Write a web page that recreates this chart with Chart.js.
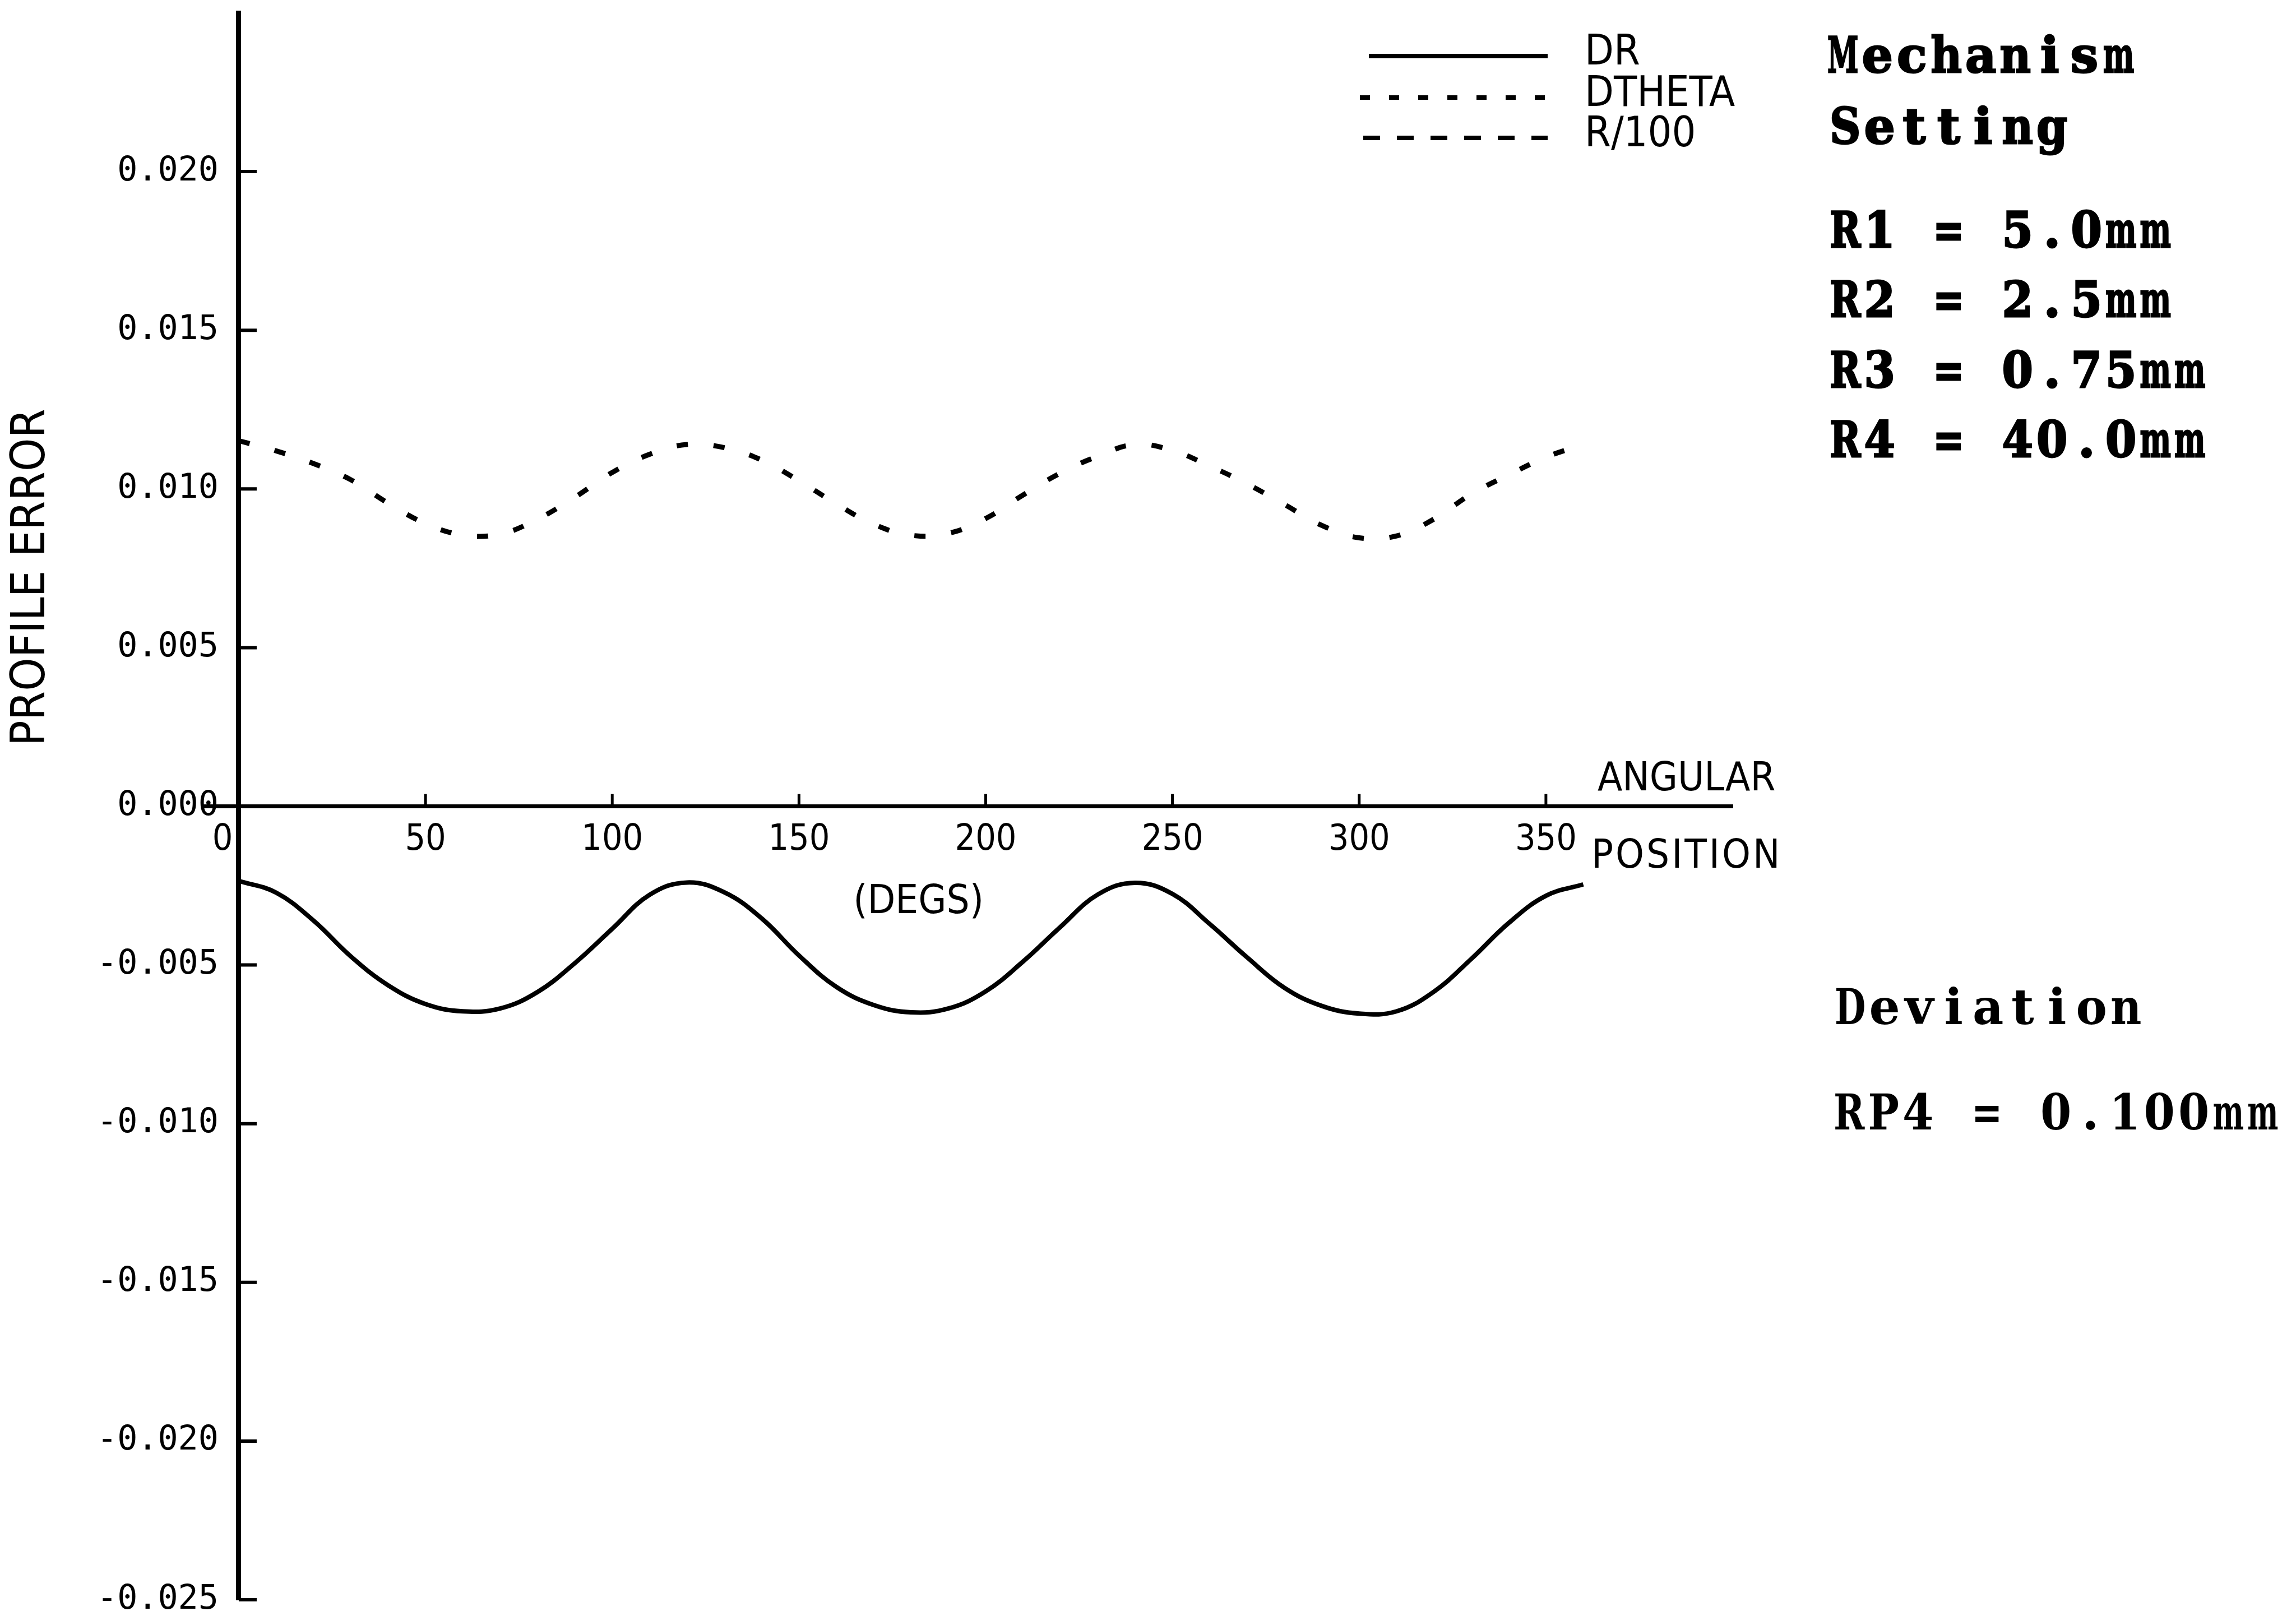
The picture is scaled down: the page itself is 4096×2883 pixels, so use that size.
<!DOCTYPE html>
<html>
<head>
<meta charset="utf-8">
<title>Profile error</title>
<script src="https://cdn.jsdelivr.net/npm/chart.js@4.4.1/dist/chart.umd.min.js"></script>
<style>
  html, body { margin: 0; padding: 0; background: #fff; }
  #chart { display: block; }
</style>
</head>
<body>
<canvas id="chart" width="4096" height="2883"></canvas>
<script>
// angular position (degrees) and the three traced series
const angles = [0, 10, 20, 30, 40, 50, 60, 70, 80, 90, 100, 110, 120,
  130, 140, 150, 160, 170, 180, 190, 200, 210, 220, 230, 240,
  250, 260, 270, 280, 290, 300, 310, 320, 330, 340, 350, 360];

const drValues = [-0.00235, -0.00272, -0.00360, -0.00473, -0.00564, -0.00623, -0.00646,
  -0.00637, -0.00585, -0.00494, -0.00386, -0.00279, -0.00240,
  -0.00271, -0.00353, -0.00470, -0.00569, -0.00626, -0.00649,
  -0.00637, -0.00583, -0.00489, -0.00380, -0.00278, -0.00241,
  -0.00276, -0.00371, -0.00476, -0.00572, -0.00629, -0.00653,
  -0.00646, -0.00584, -0.00481, -0.00368, -0.00282, -0.00246];

const dthetaValues = [0, 0, 0, 0, 0, 0, 0, 0, 0, 0, 0, 0, 0,
  0, 0, 0, 0, 0, 0, 0, 0, 0, 0, 0, 0,
  0, 0, 0, 0, 0, 0, 0, 0, 0, 0, 0, 0];

const r100Values = [0.01152, 0.01120, 0.01080, 0.01029, 0.00955, 0.00891, 0.00855,
  0.00858, 0.00905, 0.00974, 0.01052, 0.01109, 0.01140,
  0.01130, 0.01091, 0.01026, 0.00953, 0.00889, 0.00854,
  0.00860, 0.00907, 0.00981, 0.01050, 0.01103, 0.01140,
  0.01121, 0.01072, 0.01016, 0.00951, 0.00885, 0.00846,
  0.00852, 0.00905, 0.00984, 0.01044, 0.01100, 0.01140];

const seriesNames = ['DR', 'DTHETA', 'R/100'];

const xTickValues = [0, 50, 100, 150, 200, 250, 300, 350];
const yTickValues = [0.020, 0.015, 0.010, 0.005, 0.000, -0.005, -0.010, -0.015, -0.020, -0.025];

const settingTitle = ['Mechanism', 'Setting'];
const settingLines = ['R1 = 5.0mm', 'R2 = 2.5mm', 'R3 = 0.75mm', 'R4 = 40.0mm'];
const deviationTitle = 'Deviation';
const deviationLine = 'RP4 = 0.100mm';

const plotFont = '"Liberation Sans Narrow", "DejaVu Sans Condensed", "Liberation Sans", sans-serif';
const typeFont = '"DejaVu Serif", "Liberation Serif", serif';

function points(values) {
  return angles.map((a, i) => ({ x: a, y: values[i] }));
}

// typewriter style: every character sits in a fixed-width cell,
// glyphs wider than the cell are squeezed to fit
function typeText(ctx, text, left, baseline, cell, heavy) {
  for (let i = 0; i < text.length; i++) {
    const ch = text[i];
    if (ch === ' ') continue;
    const w = ctx.measureText(ch).width;
    const fit = cell * 0.9;
    const sx = w > fit ? fit / w : 1;
    ctx.save();
    ctx.translate(left + i * cell + cell / 2, baseline);
    ctx.scale(sx, 1);
    ctx.fillText(ch, -w / 2, 0);
    if (heavy) ctx.strokeText(ch, -w / 2, 0);
    ctx.restore();
  }
}

// white page behind everything
const paper = {
  id: 'paper',
  beforeDraw(chart) {
    const ctx = chart.ctx;
    ctx.save();
    ctx.fillStyle = '#fff';
    ctx.fillRect(0, 0, chart.width, chart.height);
    ctx.restore();
  }
};

// small tick marks pointing into the plot, from the axes through the origin
const axisTicks = {
  id: 'axisTicks',
  afterDatasetsDraw(chart) {
    const { ctx, scales: { x, y } } = chart;
    const x0 = x.getPixelForValue(0);
    const y0 = y.getPixelForValue(0);
    ctx.save();
    ctx.strokeStyle = '#000';
    ctx.lineWidth = 6;
    yTickValues.forEach(v => {
      const py = y.getPixelForValue(v);
      ctx.beginPath();
      ctx.moveTo(x0, py);
      ctx.lineTo(x0 + 32, py);
      ctx.stroke();
    });
    ctx.lineWidth = 5;
    xTickValues.forEach(v => {
      if (v === 0) return;
      const px = x.getPixelForValue(v);
      ctx.beginPath();
      ctx.moveTo(px, y0);
      ctx.lineTo(px, y0 - 22);
      ctx.stroke();
    });
    ctx.restore();
  }
};

// legend, axis captions and the settings block on the right
const annotations = {
  id: 'annotations',
  afterDraw(chart) {
    const ctx = chart.ctx;
    const { x, y } = chart.scales;
    ctx.save();
    ctx.fillStyle = '#000';
    ctx.strokeStyle = '#000';

    // legend
    const rows = [115, 189, 261];
    const sampleStart = [2442, 2426, 2432];
    chart.data.datasets.forEach((ds, i) => {
      ctx.save();
      ctx.lineWidth = 8;
      ctx.setLineDash(ds.legendDash || []);
      ctx.beginPath();
      ctx.moveTo(sampleStart[i], rows[i] - 15);
      ctx.lineTo(2761, rows[i] - 15);
      ctx.stroke();
      ctx.restore();
      ctx.font = '75px ' + plotFont;
      ctx.textAlign = 'left';
      ctx.textBaseline = 'alphabetic';
      ctx.fillText(ds.label, 2827, rows[i]);
    });

    // x axis captions
    const yZero = y.getPixelForValue(0);
    ctx.font = '72px ' + plotFont;
    ctx.textAlign = 'left';
    ctx.textBaseline = 'middle';
    ctx.fillText('ANGULAR', 2850, yZero - 47);
    ctx.letterSpacing = '4px';
    ctx.fillText('POSITION', 2839, yZero + 91);
    ctx.letterSpacing = '0px';
    ctx.textAlign = 'center';
    ctx.fillText('(DEGS)', x.getPixelForValue(182), yZero + 172);

    // y axis caption
    ctx.save();
    ctx.translate(57, 1030);
    ctx.rotate(-Math.PI / 2);
    ctx.font = '84px ' + plotFont;
    ctx.textAlign = 'center';
    ctx.textBaseline = 'middle';
    ctx.fillText('PROFILE ERROR', 0, 0);
    ctx.restore();

    // settings block
    const cell = 61.5;
    ctx.textAlign = 'left';
    ctx.textBaseline = 'alphabetic';
    ctx.font = 'bold 88px ' + typeFont;
    ctx.lineWidth = 3;
    typeText(ctx, settingTitle[0], 3257, 129, cell, true);
    typeText(ctx, settingTitle[1], 3261, 256, cell, true);
    const lineY = [441, 565, 691, 815];
    settingLines.forEach((t, i) => typeText(ctx, t, 3261, lineY[i], cell, true));

    typeText(ctx, deviationTitle, 3270, 1827, cell, false);
    typeText(ctx, deviationLine, 3268, 2015, cell, false);
    ctx.restore();
  }
};

new Chart(document.getElementById('chart'), {
  type: 'line',
  data: {
    datasets: [
      {
        label: seriesNames[0],
        data: points(drValues),
        borderColor: '#000',
        borderWidth: 8,
        legendDash: []
      },
      {
        label: seriesNames[1],
        data: points(dthetaValues),
        borderColor: '#000',
        borderWidth: 6,
        borderDash: [30, 14],
        legendDash: [18, 34]
      },
      {
        label: seriesNames[2],
        data: points(r100Values),
        borderColor: '#000',
        borderWidth: 9,
        borderDash: [20, 46],
        legendDash: [30, 30]
      }
    ]
  },
  options: {
    responsive: false,
    devicePixelRatio: 1,
    animation: false,
    elements: {
      point: { radius: 0 },
      line: { tension: 0.4, fill: false }
    },
    layout: { padding: { left: 366, top: 23, right: 1005, bottom: 29 } },
    plugins: {
      legend: { display: false },
      tooltip: { enabled: false }
    },
    scales: {
      x: {
        type: 'linear',
        min: -9,
        max: 400,
        position: { y: 0 },
        grid: { display: false, drawTicks: false },
        border: { display: true, color: '#000', width: 7, dash: [44, 10] },
        afterBuildTicks: axis => { axis.ticks = xTickValues.map(v => ({ value: v })); },
        ticks: {
          color: '#000',
          padding: 22,
          maxRotation: 0,
          autoSkip: false,
          font: { family: plotFont, size: 64 },
          callback: v => (v === 0 ? '0\u2002\u2002' : String(v))
        }
      },
      y: {
        type: 'linear',
        min: -0.025,
        max: 0.025,
        position: { x: 0 },
        grid: { display: false, drawTicks: false },
        border: { display: true, color: '#000', width: 9 },
        afterBuildTicks: axis => { axis.ticks = yTickValues.map(v => ({ value: v })); },
        afterFit: axis => { axis.paddingTop = 0; axis.paddingBottom = 0; },
        ticks: {
          color: '#000',
          autoSkip: false,
          font: { family: '"DejaVu Sans Mono", monospace', size: 60 },
          callback: v => v.toFixed(3) + ' '
        }
      }
    }
  },
  plugins: [paper, axisTicks, annotations]
});
</script>
</body>
</html>
